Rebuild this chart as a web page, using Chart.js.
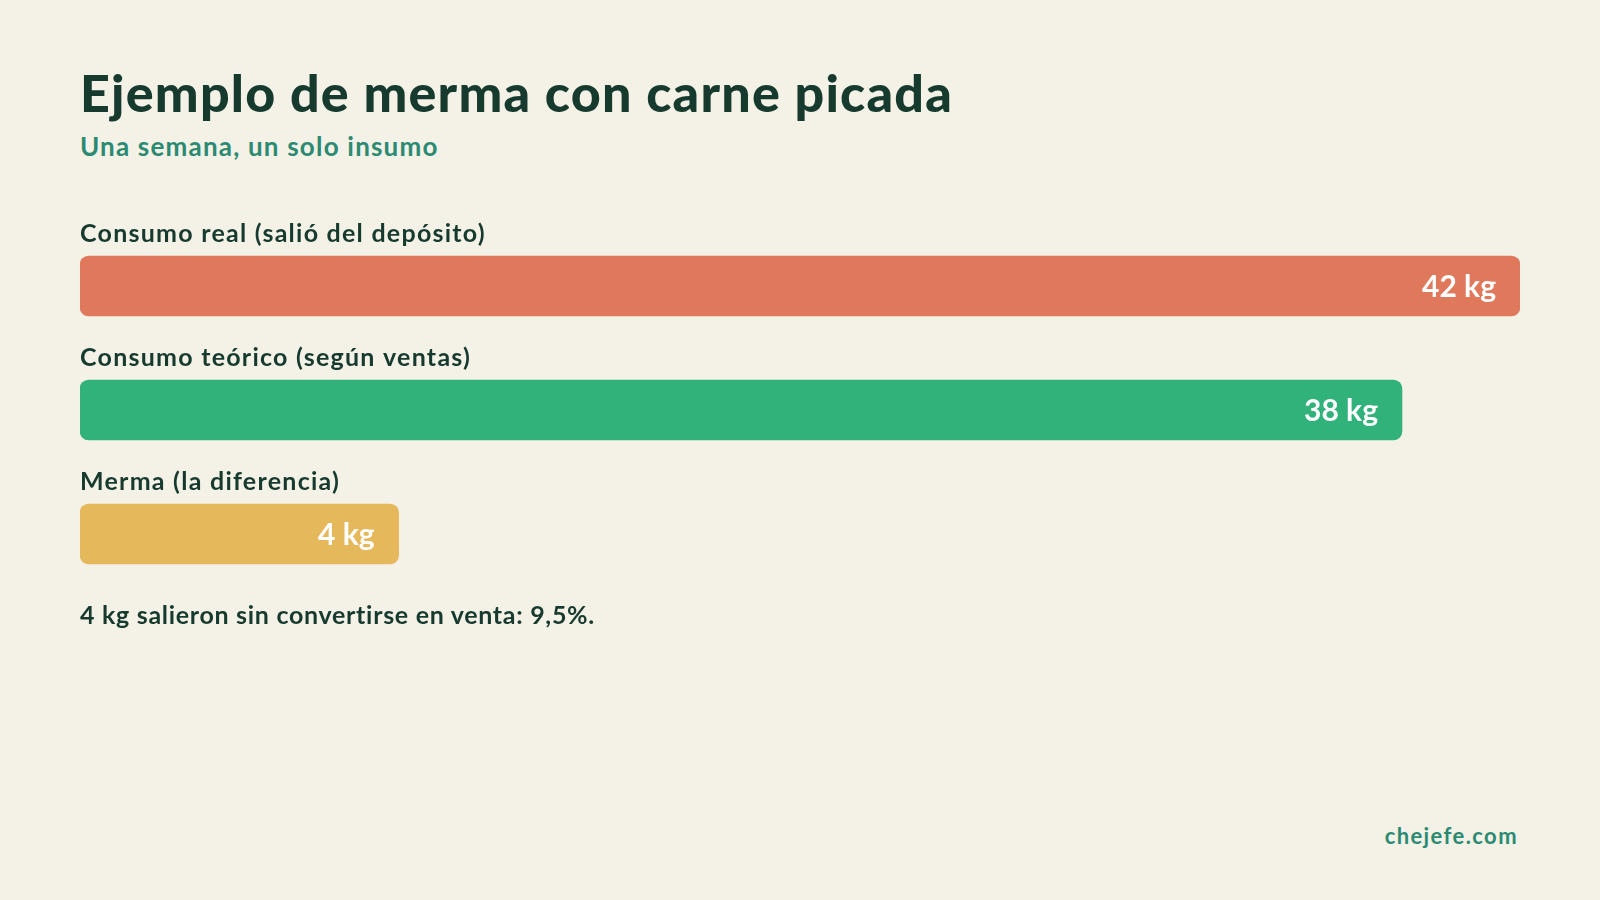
<!DOCTYPE html>
<html lang="es">
<head>
<meta charset="utf-8">
<title>Ejemplo de merma con carne picada</title>
<script src="https://cdn.jsdelivr.net/npm/chart.js@4.4.1/dist/chart.umd.min.js"></script>
<style>
    html, body {
        margin: 0;
        padding: 0;
        background: #f4f1e7;
        width: 1600px;
        height: 900px;
        overflow: hidden;
        font-family: "Lato", "Noto Sans", sans-serif;
    }
    .txt {
        position: absolute;
        white-space: nowrap;
        font-weight: 700;
    }
    #title {
        left: 80px;
        top: 66px;
        font-size: 52px;
        line-height: 52px;
        font-weight: 900;
        letter-spacing: 1.2px;
        color: #173a2f;
    }
    #subtitle {
        left: 80px;
        top: 133px;
        font-size: 26px;
        line-height: 26px;
        letter-spacing: 1.2px;
        color: #2b8a72;
    }
    #note {
        left: 80px;
        top: 602px;
        font-size: 25px;
        line-height: 25px;
        letter-spacing: 0.7px;
        color: #173a2f;
    }
    #brand {
        right: 82px;
        top: 825px;
        font-size: 22px;
        line-height: 22px;
        letter-spacing: 1.4px;
        color: #2b8a72;
    }
    #chart-wrap {
        position: absolute;
        left: 0;
        top: 200px;
        width: 1600px;
        height: 420px;
    }
</style>
</head>
<body>

<div class="txt" id="title">Ejemplo de merma con carne picada</div>
<div class="txt" id="subtitle">Una semana, un solo insumo</div>
<div id="chart-wrap"><canvas id="merma-chart"></canvas></div>
<div class="txt" id="note">4 kg salieron sin convertirse en venta: 9,5%.</div>
<div class="txt" id="brand">chejefe.com</div>

<script>
// Data
const categories = ['Consumo real (salió del depósito)', 'Consumo teórico (según ventas)', 'Merma (la diferencia)'];
const valuesKg = [42, 38, 4];
const valueLabels = ['42 kg', '38 kg', '4 kg'];

// Bars start a bit left of zero so the small one stays readable
const axisStart = -6.8;
const axisEnd = 42;

const barColors = ['#e0795b', '#31b27b', '#e5b85b'];

// Label above each bar + value inside the bar end
const barLabels = {
    id: 'barLabels',
    afterDatasetsDraw(chart) {
        const ctx = chart.ctx;
        const meta = chart.getDatasetMeta(0);
        ctx.save();
        meta.data.forEach((bar, i) => {
            const top = bar.y - bar.height / 2;
            ctx.font = '700 25px Lato, "Noto Sans", sans-serif';
            ctx.letterSpacing = '1.25px';
            ctx.fillStyle = '#173a2f';
            ctx.textAlign = 'left';
            ctx.textBaseline = 'alphabetic';
            ctx.fillText(categories[i], chart.chartArea.left, top - 14);

            ctx.font = '700 30px Lato, "Noto Sans", sans-serif';
            ctx.letterSpacing = '0px';
            ctx.fillStyle = '#ffffff';
            ctx.textAlign = 'right';
            ctx.fillText(valueLabels[i], bar.x - 24, bar.y + 11);
        });
        ctx.restore();
    }
};

new Chart(document.getElementById('merma-chart'), {
    type: 'bar',
    data: {
        labels: categories,
        datasets: [{
            data: valuesKg,
            base: axisStart,
            backgroundColor: barColors,
            borderRadius: 9,
            borderSkipped: false,
            barThickness: 60
        }]
    },
    options: {
        indexAxis: 'y',
        responsive: true,
        maintainAspectRatio: false,
        animation: false,
        layout: {
            padding: { left: 80, right: 80, top: 24, bottom: 24 }
        },
        plugins: {
            legend: { display: false },
            tooltip: { enabled: false }
        },
        scales: {
            x: { display: false, min: axisStart, max: axisEnd },
            y: { display: false }
        }
    },
    plugins: [barLabels]
});
</script>
</body>
</html>
